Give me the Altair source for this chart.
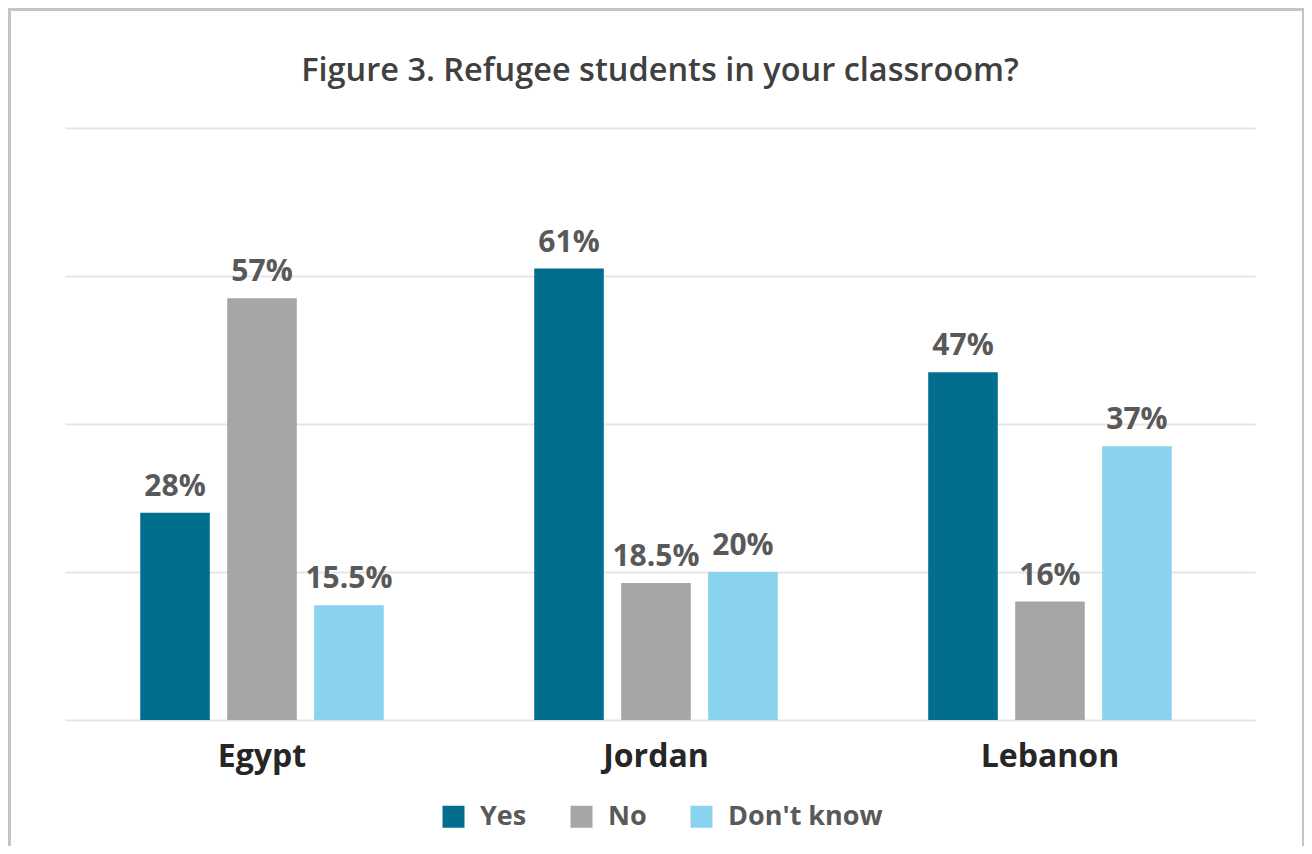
import altair as alt
import pandas as pd

countries = ["Egypt", "Jordan", "Lebanon"]
responses = ["Yes", "No", "Don't know"]
yes_vals = [28, 61, 47]
no_vals = [57, 18.5, 16]
dk_vals = [15.5, 20, 37]
colors = ["#006E8C", "#A6A6A6", "#89D3EE"]
title_text = "Figure 3. Refugee students in your classroom?"

rows = []
for i, c in enumerate(countries):
    for r, series in zip(responses, [yes_vals, no_vals, dk_vals]):
        v = series[i]
        rows.append({"country": c, "response": r, "value": v, "label": f"{v:g}%"})
df = pd.DataFrame(rows)

FONT = "Open Sans"

base = alt.Chart(df).encode(
    x=alt.X("country:N", sort=countries,
            scale=alt.Scale(paddingInner=0, paddingOuter=0.0102, align=0),
            axis=alt.Axis(title=None, labelAngle=0, domain=False, ticks=False,
                          labelFontSize=32, labelFontWeight="bold", labelColor="#262626",
                          labelFont=FONT, labelPadding=21)),
    xOffset=alt.XOffset("response:N", sort=responses,
                        scale=alt.Scale(paddingInner=0.2, paddingOuter=0.865)),
    y=alt.Y("value:Q", scale=alt.Scale(domain=[0, 80]),
            axis=alt.Axis(title=None, labels=False, ticks=False, domain=False,
                          values=[0, 20, 40, 60, 80], grid=True,
                          gridColor="#E6E6E6", gridWidth=2)),
)

bars = base.mark_bar().encode(
    color=alt.Color("response:N", sort=responses,
                    scale=alt.Scale(domain=responses, range=colors),
                    legend=alt.Legend(title=None, orient="none", direction="horizontal",
                                      legendX=375, legendY=675,
                                      symbolType="square", symbolSize=484,
                                      symbolStrokeWidth=0, symbolOpacity=1,
                                      labelFontSize=27, labelFontWeight="bold",
                                      labelColor="#595959", labelFont=FONT,
                                      labelOffset=13, columnPadding=41))
)

texts = base.mark_text(baseline="alphabetic", dy=-17, fontSize=30, fontWeight="bold",
                       color="#595959", font=FONT).encode(text="label:N")

frame_df = pd.DataFrame({"k": [0]})
frame_color = "#C4C4C4"
top_line = alt.Chart(frame_df).mark_rule(color=frame_color, strokeWidth=4).encode(
    x=alt.value(-58), x2=alt.value(1240), y=alt.value(-119))
left_line = alt.Chart(frame_df).mark_rule(color=frame_color, strokeWidth=4).encode(
    x=alt.value(-56), y=alt.value(-121), y2=alt.value(718))
right_line = alt.Chart(frame_df).mark_rule(color=frame_color, strokeWidth=2).encode(
    x=alt.value(1238), y=alt.value(-121), y2=alt.value(718))

chart = alt.layer(bars, texts, top_line, left_line, right_line).properties(
    width=1190, height=592,
    title=alt.Title(title_text, fontSize=32.5, fontWeight=600, color="#404040",
                    font=FONT, anchor="middle", offset=-82, frame="group"),
    autosize=alt.AutoSizeParams(type="none"),
    padding={"left": 57, "right": 49, "top": 120, "bottom": 126},
    background="white",
).configure_view(strokeWidth=0, stroke="transparent")

chart.save("out.html", embed_options={"renderer": "svg", "actions": False})
